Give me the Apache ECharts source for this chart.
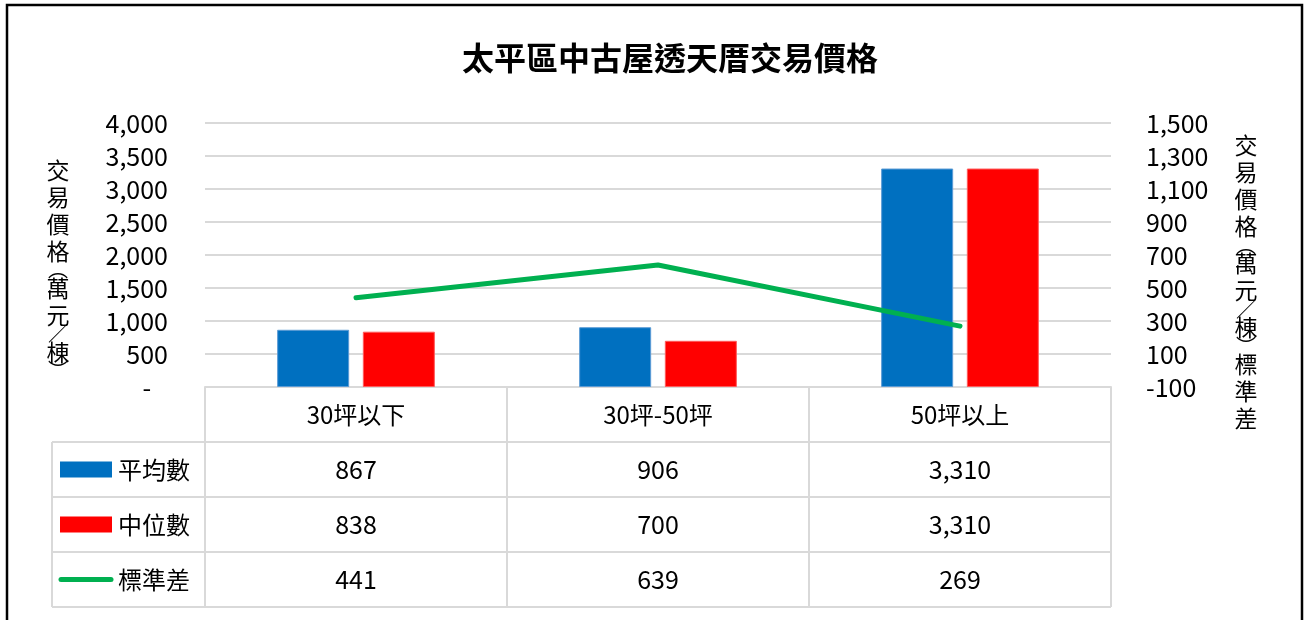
<!DOCTYPE html>
<html>
<head>
<meta charset="utf-8">
<script src="https://cdn.jsdelivr.net/npm/echarts@6/dist/echarts.min.js"></script>
<style>
  html, body { margin: 0; padding: 0; background: #fff; }
  #chart { width: 1309px; height: 620px; }
</style>
</head>
<body>
<div id="chart"></div>
<script>
// Size classes (columns of the data table) and the three measured series
const categories = ['30坪以下', '30坪-50坪', '50坪以上'];
const meanValues = [867, 906, 3310];
const medianValues = [838, 700, 3310];
const stdValues = [441, 639, 269];
const seriesNames = ['平均數', '中位數', '標準差'];
const seriesColors = ['#0070C0', '#FF0000', '#00B050'];

// Axis ranges
const leftAxisRange = { min: 0, max: 4000, interval: 500 };
const rightAxisRange = { min: -100, max: 1500, interval: 200 };

const titleText = '太平區中古屋透天厝交易價格';
const leftAxisTitle = ['交', '易', '價', '格', '︵', '萬', '元', '／', '棟', '︶'];
const rightAxisTitle = ['交', '易', '價', '格', '︵', '萬', '元', '／', '棟', '︶', '標', '準', '差'];

// Layout
const W = 1309, H = 620;
const PLOT_L = 205, PLOT_R = 1111, PLOT_T = 123, PLOT_B = 387;
const ROW = 55;
const TABLE_L = 52;
const FONT = "'Noto Sans CJK TC', 'Noto Sans', sans-serif";
const GRID_COLOR = '#d9d9d9';
const TEXT_COLOR = '#000';

const fmt = v => Number(v).toLocaleString('en-US');
const rows = [meanValues, medianValues, stdValues];

// Vertical stacked axis title built as rich text
function stackedTitle(chars) {
  return chars.map(c => ('︵／︶'.includes(c) ? '{p|' + c + '}' : '{c|' + c + '}')).join('\n');
}
const stackedRich = {
  c: { fontSize: 23, lineHeight: 27, fontFamily: FONT, color: TEXT_COLOR, align: 'center' },
  p: { fontSize: 20, lineHeight: 10, fontFamily: FONT, color: TEXT_COLOR, align: 'center' }
};

const chart = echarts.init(document.getElementById('chart'), null, { renderer: 'canvas' });

// Frame, title, axis titles, table rules and legend keys
const graphics = [];
graphics.push({
  type: 'rect', shape: { x: 7, y: 5, width: 1295, height: 700 },
  style: { fill: 'none', stroke: '#000', lineWidth: 2.5 }, silent: true
});
graphics.push({
  type: 'text', x: 670, y: 58,
  style: { text: titleText, font: 'bold 32px ' + FONT, fill: TEXT_COLOR, align: 'center', verticalAlign: 'middle' }
});
graphics.push({
  type: 'text', x: 58, y: 266,
  style: { text: stackedTitle(leftAxisTitle), rich: stackedRich, align: 'center', verticalAlign: 'middle' }
});
graphics.push({
  type: 'text', x: 1246, y: 282,
  style: { text: stackedTitle(rightAxisTitle), rich: stackedRich, align: 'center', verticalAlign: 'middle' }
});
for (let k = 1; k <= 4; k++) {
  graphics.push({
    type: 'line', shape: { x1: TABLE_L, y1: PLOT_B + k * ROW, x2: PLOT_R, y2: PLOT_B + k * ROW },
    style: { stroke: GRID_COLOR, lineWidth: 2 }, silent: true
  });
}
graphics.push({
  type: 'line', shape: { x1: TABLE_L, y1: PLOT_B + ROW, x2: TABLE_L, y2: PLOT_B + 4 * ROW },
  style: { stroke: GRID_COLOR, lineWidth: 2 }, silent: true
});
seriesNames.forEach((name, i) => {
  const cy = PLOT_B + ROW * (i + 1) + ROW / 2;
  if (i < 2) {
    graphics.push({ type: 'rect', shape: { x: 60, y: cy - 8, width: 52, height: 16 }, style: { fill: seriesColors[i] } });
  } else {
    graphics.push({
      type: 'line', shape: { x1: 61, y1: cy, x2: 111, y2: cy },
      style: { stroke: seriesColors[i], lineWidth: 5, lineCap: 'round' }
    });
  }
  graphics.push({
    type: 'text', x: 118, y: cy,
    style: { text: name, font: '24px ' + FONT, fill: TEXT_COLOR, align: 'left', verticalAlign: 'middle' }
  });
});

const option = {
  backgroundColor: '#fff',
  animation: false,
  textStyle: { fontFamily: FONT },
  grid: { left: PLOT_L, right: W - PLOT_R, top: PLOT_T, bottom: H - PLOT_B, containLabel: false },
  xAxis: {
    type: 'category',
    data: categories,
    boundaryGap: true,
    axisLine: { show: true, lineStyle: { color: GRID_COLOR, width: 2 } },
    axisTick: { show: true, length: 4 * ROW, lineStyle: { color: GRID_COLOR, width: 2 } },
    splitLine: { show: false },
    axisLabel: {
      interval: 0,
      margin: 0,
      formatter: (value, idx) =>
        ['{h|' + value + '}'].concat(rows.map(r => '{v|' + fmt(r[idx]) + '}')).join('\n'),
      rich: {
        h: { fontSize: 24, lineHeight: ROW, color: TEXT_COLOR, fontFamily: FONT },
        v: { fontSize: 25, lineHeight: ROW, color: TEXT_COLOR, fontFamily: FONT }
      }
    }
  },
  yAxis: [
    {
      type: 'value',
      min: leftAxisRange.min, max: leftAxisRange.max, interval: leftAxisRange.interval,
      axisLine: { show: false }, axisTick: { show: false },
      splitLine: { show: true, lineStyle: { color: GRID_COLOR, width: 2 } },
      axisLabel: {
        margin: 37, color: TEXT_COLOR, fontSize: 25, fontFamily: FONT,
        formatter: v => (v === 0 ? '-   ' : fmt(v))
      }
    },
    {
      type: 'value',
      min: rightAxisRange.min, max: rightAxisRange.max, interval: rightAxisRange.interval,
      axisLine: { show: false }, axisTick: { show: false },
      splitLine: { show: false },
      axisLabel: {
        margin: 35, color: TEXT_COLOR, fontSize: 25, fontFamily: FONT,
        formatter: v => fmt(v)
      }
    }
  ],
  series: [
    {
      name: seriesNames[0], type: 'bar', data: meanValues, yAxisIndex: 0,
      barWidth: 72, barGap: '19%', z: 2,
      itemStyle: { color: seriesColors[0], borderColor: '#5b9bd5', borderWidth: 1 }
    },
    {
      name: seriesNames[1], type: 'bar', data: medianValues, yAxisIndex: 0,
      barWidth: 72, barGap: '19%', z: 2,
      itemStyle: { color: seriesColors[1], borderColor: '#ff5b5b', borderWidth: 1 }
    },
    {
      name: seriesNames[2], type: 'line', data: stdValues, yAxisIndex: 1,
      symbol: 'none', z: 5,
      lineStyle: { color: seriesColors[2], width: 5, cap: 'round', join: 'round' }
    }
  ],
  graphic: graphics
};

chart.setOption(option);
</script>
</body>
</html>
